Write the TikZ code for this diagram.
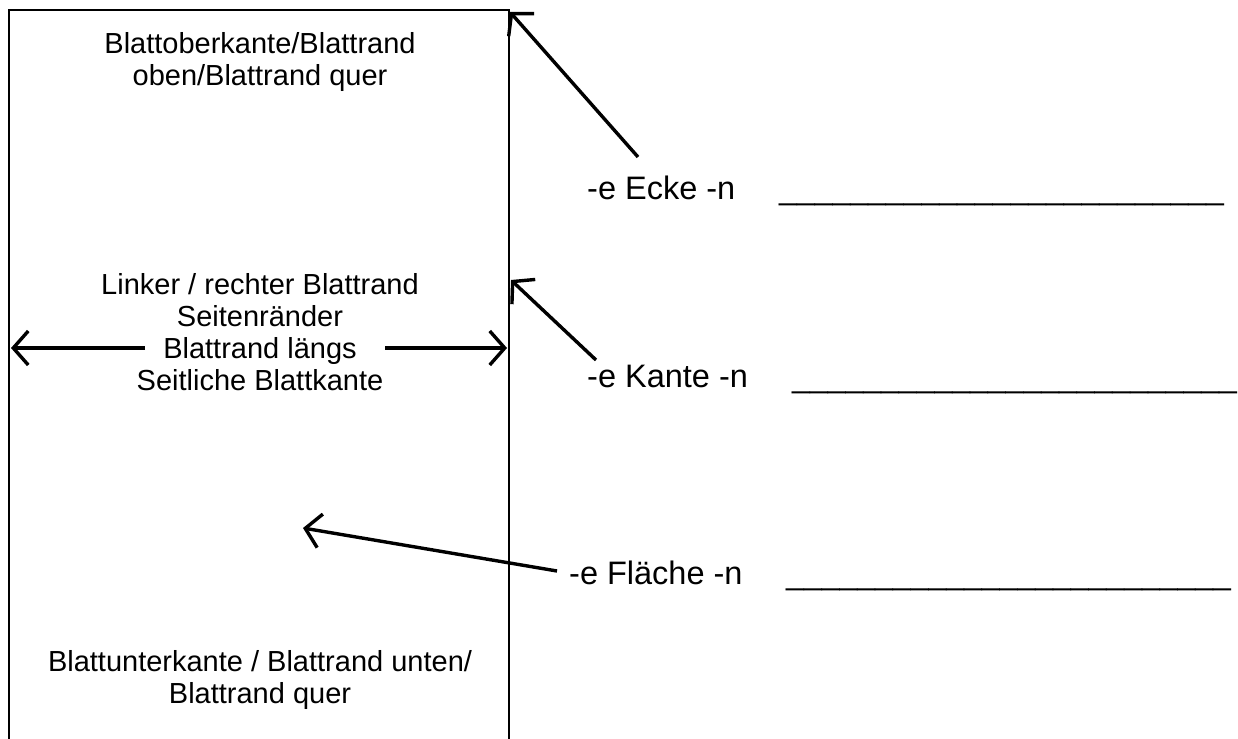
\documentclass[tikz,border=0pt]{standalone}
\usepackage{fontspec}
\setmainfont{Liberation Sans}
\usetikzlibrary{arrows.meta}
\begin{document}
\begin{tikzpicture}[x=1pt,y=-1pt,
  boxtext/.style={font=\fontsize{29}{32}\selectfont, align=center, inner sep=0pt, anchor=north},
  wordlabel/.style={font=\fontsize{32.5}{36}\selectfont, inner sep=0pt, anchor=base west},
  pointer/.style={line width=3.4pt, -{Straight Barb[length=15pt,width=34pt]}},
  sheet/.style={line width=2.4pt}]
\useasboundingbox (0,0) rectangle (1238,738);
% sheet of paper (bottom edge outside the picture)
\coordinate (bl) at (9,745);
\coordinate (tl) at (9,10);
\coordinate (tr) at (509,10);
\coordinate (br) at (509,745);
\draw[sheet] (bl) -- (tl) -- (tr) -- (br);
% texts in the sheet
\node[boxtext] (top) at (260,32) {Blattoberkante/Blattrand\\oben/Blattrand quer};
\node[boxtext] (side) at (260,273) {Linker / rechter Blattrand\\Seitenränder\\Blattrand längs\\Seitliche Blattkante};
\node[boxtext] (bottom) at (260,650) {Blattunterkante / Blattrand unten/\\Blattrand quer};
% word labels
\node[wordlabel] (ecke) at (587,199) {-e Ecke -n};
\node[wordlabel] (kante) at (587,387) {-e Kante -n};
\node[wordlabel] (flaeche) at (569,584) {-e Fläche -n};
% blanks
\node[wordlabel, font=\fontsize{32}{36}\selectfont] (blank1) at (779,199) {\_\_\_\_\_\_\_\_\_\_\_\_\_\_\_\_\_\_\_\_\_\_\_\_\_};
\node[wordlabel, font=\fontsize{32}{36}\selectfont] (blank2) at (792,387) {\_\_\_\_\_\_\_\_\_\_\_\_\_\_\_\_\_\_\_\_\_\_\_\_\_};
\node[wordlabel, font=\fontsize{32}{36}\selectfont] (blank3) at (786,584) {\_\_\_\_\_\_\_\_\_\_\_\_\_\_\_\_\_\_\_\_\_\_\_\_\_};
% arrow end points
\coordinate (eckeTail) at (638,157);
\coordinate (eckeTip) at (510,12);
\coordinate (kanteTail) at (596,360);
\coordinate (kanteTip) at (511,280);
\coordinate (flTail) at (557,571);
\coordinate (flTip) at (303,528);
\coordinate (lTail) at (145,348);
\coordinate (lTip) at (11,348);
\coordinate (rTail) at (385,348);
\coordinate (rTip) at (507,348);
\draw[pointer] (eckeTail) -- (eckeTip);
\draw[pointer] (kanteTail) -- (kanteTip);
\draw[pointer] (flTail) -- (flTip);
\draw[pointer] (lTail) -- (lTip);
\draw[pointer] (rTail) -- (rTip);
\end{tikzpicture}
\end{document}
